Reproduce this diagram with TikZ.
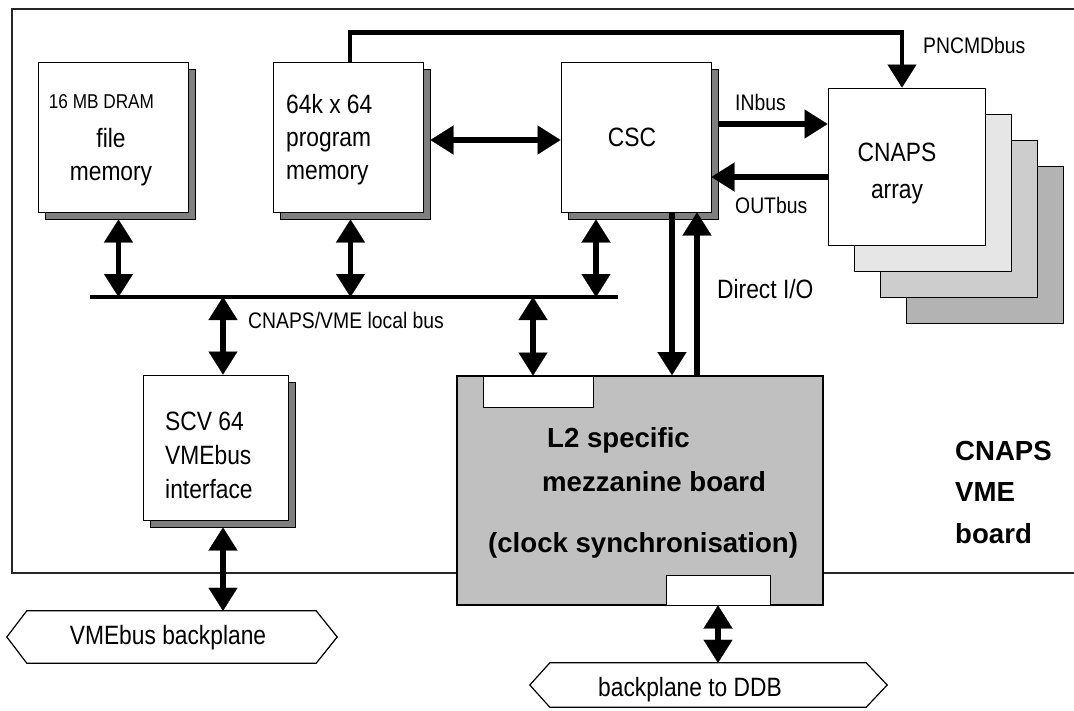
\documentclass[tikz,border=0pt]{standalone}
\usepackage{fontspec}
\setmainfont{Liberation Sans}[FakeStretch=0.86]
\newfontfamily\widefont{Liberation Sans}
\usetikzlibrary{arrows.meta}
\definecolor{shadowgray}{HTML}{7F7F7F}
\definecolor{mezzgray}{HTML}{C0C0C0}
\definecolor{stackA}{HTML}{E6E6E6}
\definecolor{stackB}{HTML}{CDCDCD}
\definecolor{stackC}{HTML}{B3B3B3}
\newcommand\fsBig{\fontsize{26.5}{33}\selectfont}
\newcommand\fsArr{\fontsize{26.5}{37}\selectfont}
\newcommand\fsScv{\fontsize{26.5}{34}\selectfont}
\newcommand\fsMid{\fontsize{22.5}{27}\selectfont}
\newcommand\fsSmall{\fontsize{20}{24}\selectfont}
\newcommand\fsBold{\widefont\bfseries\fontsize{27.6}{41.5}\selectfont}
\tikzset{
  BigT/.tip={Triangle[length=23pt,width=29pt,line width=0.1pt]},
}
\begin{document}
\begin{tikzpicture}[x=1pt,y=-1pt,
  boxst/.style={draw=black,line width=1pt,fill=white,inner sep=0pt,minimum width=150pt,minimum height=150pt},
  shadst/.style={draw=black,line width=1pt,fill=shadowgray,inner sep=0pt,minimum width=150pt,minimum height=150pt},
  stackst/.style={draw=black,line width=1pt,inner sep=0pt,minimum width=157pt,minimum height=157pt},
  fat/.style={line width=5.5pt},
  busline/.style={line width=4.5pt},
  lbl/.style={inner sep=0pt,anchor=west},
  hexst/.style={draw=black,line width=1.2pt,fill=white},
]
\useasboundingbox (0,0) rectangle (1074,710);
% board outline
\draw[line width=1.3pt,draw=black!85] (1076,9) -- (12,9) -- (12,573) -- (1076,573);

% shadows
\node[shadst] (filesh) at (120.5,144) {};
\node[shadst] (progsh) at (355,144) {};
\node[shadst] (cscsh)  at (643,144) {};
\node[shadst,minimum width=145pt,minimum height=145pt] (scvsh) at (222.5,454.5) {};
% boxes
\node[boxst] (filemem) at (113.5,137) {};
\node[boxst] (progmem) at (348,137) {};
\node[boxst] (csc)     at (636,137) {};
\node[boxst,minimum width=145pt,minimum height=145pt] (scv) at (215.5,447.5) {};

% CNAPS stack
\node[stackst,fill=stackC] (cn4) at (985,244.5) {};
\node[stackst,fill=stackB] (cn3) at (959,218.5) {};
\node[stackst,fill=stackA] (cn2) at (933,192.5) {};
\node[stackst,fill=white]  (cnaps) at (906.5,166.5) {};

% mezzanine
\node[draw=black,line width=1.8pt,fill=mezzgray,inner sep=0pt,minimum width=366pt,minimum height=229pt] (mezz) at (640,490.5) {};
\node[draw=black,line width=1pt,fill=white,inner sep=0pt,minimum width=110pt,minimum height=31pt] (conntop) at (538,391.5) {};
\node[draw=black,line width=1pt,fill=white,inner sep=0pt,minimum width=104pt,minimum height=30pt] (connbot) at (718,590) {};

% backplanes
\node[inner sep=0pt,minimum width=289pt,minimum height=52pt] (vmebp) at (171.5,637) {};
\draw[hexst] (vmebp.north west) -- (vmebp.north east) -- ([xshift=21pt]vmebp.east) -- (vmebp.south east)
  -- (vmebp.south west) -- ([xshift=-20pt]vmebp.west) -- cycle;
\node[inner sep=0pt,font=\fsBig] (vmebptext) at (168,638) {VMEbus backplane};
\node[inner sep=0pt,minimum width=316pt,minimum height=44pt] (ddb) at (708,685) {};
\draw[hexst] (ddb.north west) -- (ddb.north east) -- ([xshift=21pt]ddb.east) -- (ddb.south east)
  -- (ddb.south west) -- ([xshift=-20pt]ddb.west) -- cycle;
\node[inner sep=0pt,font=\fsBig] (ddbtext) at (690,690) {backplane to DDB};

% local bus
\coordinate (busL) at (90,297);
\coordinate (busR) at (618,297);
\draw[busline] (busL) -- (busR);

% PNCMDbus
\draw[line width=4.5pt,-{BigT}] ([xshift=2pt]progmem.north) -- ++(0,-29) -| ([xshift=-4.5pt]cnaps.north);

% program memory <-> CSC
\draw[fat,{BigT}-{BigT}] ([yshift=4pt]progsh.east) -- ([yshift=-3pt]csc.west);
% INbus / OUTbus
\draw[fat,-{BigT}] ([yshift=20pt]cscsh.east) -- ([yshift=42.5pt]cnaps.west);
\draw[fat,-{BigT}] ([yshift=-10.5pt]cnaps.west) -- ([yshift=-40pt]csc.east);

% boxes <-> bus
\draw[fat,{BigT}-{BigT}] ([xshift=-2pt]filesh.south) -- ([xshift=-2pt]filesh.south |- busL);
\draw[fat,{BigT}-{BigT}] ([xshift=-4.5pt]progsh.south) -- ([xshift=-4.5pt]progsh.south |- busL);
\draw[fat,{BigT}-{BigT}] ([xshift=-47pt]cscsh.south) -- ([xshift=-47pt]cscsh.south |- busL);
\draw[fat,{BigT}-{BigT}] ([xshift=7.5pt]scv.north |- busL) -- ([xshift=7.5pt]scv.north);
\draw[fat,{BigT}-{BigT}] ([xshift=-5pt]conntop.north |- busL) -- ([xshift=-5pt]conntop.north);

% Direct I/O
\draw[fat,-{BigT}] ([xshift=36pt]csc.south) -- ([xshift=36pt]csc.south |- mezz.north);
\draw[fat,-{BigT}] ([xshift=61pt]csc.south |- mezz.north) -- ([xshift=61pt]csc.south);

% to backplanes
\draw[fat,{BigT}-{BigT}] ([xshift=0.5pt]scvsh.south) -- ([xshift=0.5pt]scvsh.south |- vmebp.north);
\draw[fat,{BigT}-{BigT}] (connbot.south) -- (connbot.south |- ddb.north);

% texts
\node[inner sep=0pt,font=\fsSmall] (dramtxt) at (101.5,102) {16 MB DRAM};
\node[inner sep=0pt,font=\fsBig,align=center] (filetxt) at (111,157) {file\\memory};
\node[lbl,font=\fsBig,align=left] (progtxt) at (286,140) {64k x 64\\program\\memory};
\node[inner sep=0pt,font=\fsBig] (csctxt) at (632,137) {CSC};
\node[inner sep=0pt,font=\fsArr,align=center] (cnapstxt) at (897,173) {CNAPS\\array};
\node[lbl,font=\fsScv,align=left] (scvtxt) at (165,455) {SCV 64\\VMEbus\\interface};
\node[lbl,font=\fsMid] (pncmdtxt) at (923,45) {PNCMDbus};
\node[lbl,font=\fsMid] (inbustxt) at (735,102) {INbus};
\node[lbl,font=\fsMid] (outbustxt) at (735,205) {OUTbus};
\node[lbl,font=\fsBig] (diotxt) at (717,289) {Direct I/O};
\node[lbl,font=\fsMid] (bustxt) at (248,320) {CNAPS/VME local bus};
\node[lbl,font=\fsBold] (l2txt) at (547,440) {L2 specific};
\node[lbl,font=\fsBold] (mezztxt) at (542,482) {mezzanine board};
\node[lbl,font=\fsBold] (clktxt) at (488,545) {(clock synchronisation)};
\node[lbl,font=\fsBold,align=left] (boardtxt) at (955,492) {CNAPS\\VME\\board};
\end{tikzpicture}
\end{document}
